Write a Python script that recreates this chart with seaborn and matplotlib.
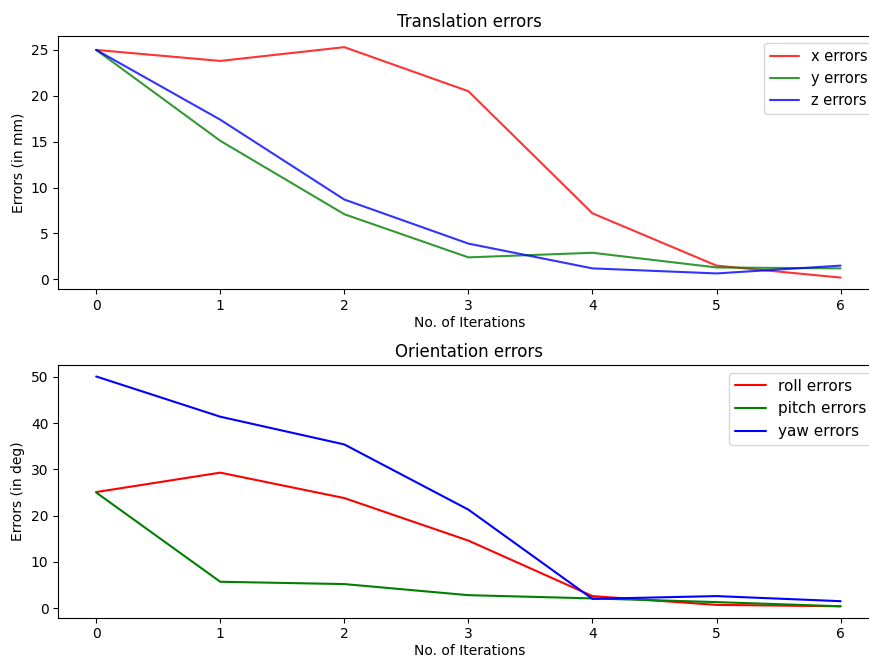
import numpy as np
import pandas as pd
import matplotlib
matplotlib.use("Agg")
import matplotlib.pyplot as plt
import seaborn as sns

# iterations
iterations = [0, 1, 2, 3, 4, 5, 6]

# translation errors (mm)
x_errors = [25.0, 23.8, 25.3, 20.5, 7.2, 1.5, 0.2]
y_errors = [25.0, 15.1, 7.1, 2.4, 2.9, 1.3, 1.2]
z_errors = [25.0, 17.4, 8.7, 3.9, 1.2, 0.65, 1.5]

# orientation errors (deg)
roll_errors = [25.1, 29.3, 23.8, 14.6, 2.6, 0.7, 0.4]
pitch_errors = [25.0, 5.7, 5.2, 2.8, 2.1, 1.3, 0.4]
yaw_errors = [50.1, 41.4, 35.4, 21.3, 2.0, 2.6, 1.5]

trans_labels = ["x errors", "y errors", "z errors"]
orient_labels = ["roll errors", "pitch errors", "yaw errors"]
line_colors = ["red", "green", "blue"]


def to_long(series, labels):
    frames = []
    for vals, lab in zip(series, labels):
        frames.append(pd.DataFrame({"iter": iterations, "err": vals, "kind": lab}))
    return pd.concat(frames, ignore_index=True)


trans_df = to_long([x_errors, y_errors, z_errors], trans_labels)
orient_df = to_long([roll_errors, pitch_errors, yaw_errors], orient_labels)

sns.set_style("ticks")
plt.rcParams["font.family"] = ["DejaVu Sans"]
plt.rcParams["axes.edgecolor"] = "black"
plt.rcParams["text.color"] = "black"
plt.rcParams["xtick.color"] = "black"
plt.rcParams["ytick.color"] = "black"
plt.rcParams["axes.labelcolor"] = "black"

fig = plt.figure(figsize=(8.69, 6.6), dpi=100)
# axes run a little past the right edge, like the cropped original
ax1 = fig.add_axes([0.067, 0.562, 0.946, 0.384])
ax2 = fig.add_axes([0.067, 0.064, 0.946, 0.383])

panels = [
    (ax1, trans_df, trans_labels, "Translation errors", "Errors (in mm)", 0.8, 10.5),
    (ax2, orient_df, orient_labels, "Orientation errors", "Errors (in deg)", 1.0, 11),
]

for ax, df, labels, title, ylab, alpha, leg_fs in panels:
    sns.lineplot(data=df, x="iter", y="err", hue="kind", hue_order=labels,
                 palette=dict(zip(labels, line_colors)), linewidth=1.5,
                 alpha=alpha, ax=ax)
    ax.set_title(title, fontsize=12)
    ax.set_xlabel("No. of Iterations", fontsize=10, labelpad=2)
    ax.set_ylabel(ylab, fontsize=10)
    ax.set_xlim(-0.306, 6.32)
    ax.set_xticks(iterations)
    ax.tick_params(labelsize=10)
    ax.legend(loc="upper right", fontsize=leg_fs, frameon=True)

fig.savefig("out.png", dpi=100)
